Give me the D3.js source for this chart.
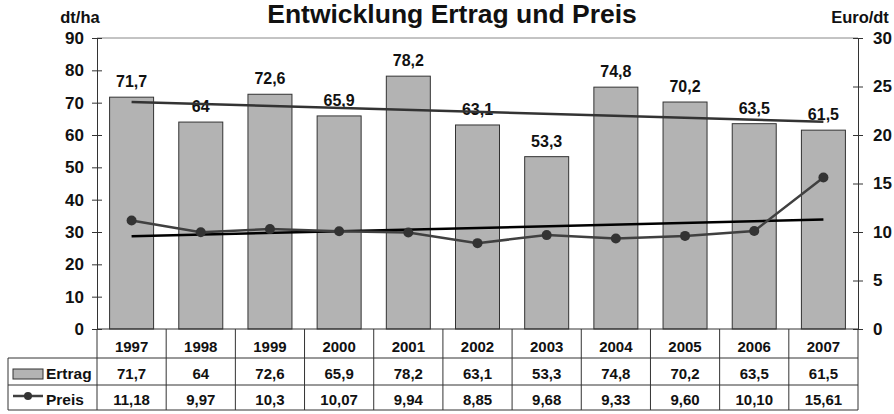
<!DOCTYPE html>
<html>
<head>
<meta charset="utf-8">
<script src="https://cdn.jsdelivr.net/npm/d3@7"></script>
<style>
  body { margin: 0; background: white; }
  svg text { font-family: "Liberation Sans", Arial, sans-serif; font-weight: bold; fill: #111; }
</style>
</head>
<body>
<svg width="894" height="414"></svg>
<script>
const years = ['1997', '1998', '1999', '2000', '2001', '2002', '2003', '2004', '2005', '2006', '2007'];
const ertrag = [71.7, 64, 72.6, 65.9, 78.2, 63.1, 53.3, 74.8, 70.2, 63.5, 61.5];
const preis = [11.18, 9.97, 10.3, 10.07, 9.94, 8.85, 9.68, 9.33, 9.60, 10.10, 15.61];
const preisLabels = ['11,18', '9,97', '10,3', '10,07', '9,94', '8,85', '9,68', '9,33', '9,60', '10,10', '15,61'];
const leftTicks = [0, 10, 20, 30, 40, 50, 60, 70, 80, 90];
const rightTicks = [0, 5, 10, 15, 20, 25, 30];

const svg = d3.select('svg');

const plot = { left: 97, right: 858, top: 38, bottom: 329 };
const rowY = [329, 358, 385, 410];
const tableLeft = 8;

const fmt = v => String(v).replace('.', ',');

const xBand = d3.scaleBand()
      .domain(years)
      .range([plot.left, plot.right])
      .paddingInner(0.364)
      .paddingOuter(0.182);
const xCell = d3.scaleBand()
      .domain(years)
      .range([plot.left, plot.right]);
const xMid = d => xCell(d) + xCell.bandwidth() / 2;

const yLeft = d3.scaleLinear().domain([0, 90]).range([plot.bottom, plot.top]);
const yRight = d3.scaleLinear().domain([0, 30]).range([plot.bottom, plot.top]);

// linear trend (least squares) like the Excel trendline
const trend = values => {
    const n = values.length;
    const xs = d3.range(n);
    const mx = d3.mean(xs), my = d3.mean(values);
    const slope = d3.sum(xs, i => (i - mx) * (values[i] - my)) / d3.sum(xs, i => (i - mx) ** 2);
    return [0, n - 1].map(i => ({ year: years[i], value: my + slope * (i - mx) }));
};

// title and units
svg.append('text')
    .attr('x', 452).attr('y', 23)
    .attr('text-anchor', 'middle')
    .style('font-size', '26.5px')
    .text('Entwicklung Ertrag und Preis');
svg.append('text')
    .attr('x', 80).attr('y', 23)
    .attr('text-anchor', 'middle')
    .style('font-size', '16.5px')
    .text('dt/ha');
svg.append('text')
    .attr('x', 860).attr('y', 23)
    .attr('text-anchor', 'middle')
    .style('font-size', '16.5px')
    .text('Euro/dt');

// top border of plot area
svg.append('line')
    .attr('x1', plot.left).attr('x2', plot.right)
    .attr('y1', plot.top).attr('y2', plot.top)
    .attr('stroke', '#888').attr('stroke-width', 1);

// bars
svg.append('g').selectAll('rect').data(years)
    .enter().append('rect')
    .attr('x', d => xBand(d))
    .attr('width', xBand.bandwidth())
    .attr('y', (d, i) => yLeft(ertrag[i]))
    .attr('height', (d, i) => plot.bottom - yLeft(ertrag[i]))
    .attr('fill', '#b3b3b3')
    .attr('stroke', '#333')
    .attr('stroke-width', 1);

// bar labels
svg.append('g').selectAll('text').data(years)
    .enter().append('text')
    .attr('x', d => xMid(d))
    .attr('y', (d, i) => yLeft(ertrag[i]) - 10)
    .attr('text-anchor', 'middle')
    .style('font-size', '16px')
    .text((d, i) => fmt(ertrag[i]));

// trend lines
const ertragTrend = trend(ertrag);
const preisTrend = trend(preis);
svg.append('path')
    .datum(ertragTrend)
    .attr('d', d3.line().x(d => xMid(d.year)).y(d => yLeft(d.value)))
    .attr('fill', 'none').attr('stroke', '#333').attr('stroke-width', 2.5);
svg.append('path')
    .datum(preisTrend)
    .attr('d', d3.line().x(d => xMid(d.year)).y(d => yRight(d.value)))
    .attr('fill', 'none').attr('stroke', '#000').attr('stroke-width', 2.5);

// price line
svg.append('path')
    .datum(years)
    .attr('d', d3.line().x(d => xMid(d)).y((d, i) => yRight(preis[i])))
    .attr('fill', 'none').attr('stroke', '#404040').attr('stroke-width', 2.5);
svg.append('g').selectAll('circle').data(years)
    .enter().append('circle')
    .attr('cx', d => xMid(d))
    .attr('cy', (d, i) => yRight(preis[i]))
    .attr('r', 5)
    .attr('fill', '#333');

// axes
const leftAxis = d3.axisLeft(yLeft).tickValues(leftTicks).tickSizeInner(5).tickSizeOuter(0).tickPadding(8);
const leftAxisGroup = svg.append('g')
      .attr('transform', `translate(${plot.left},0)`)
      .call(leftAxis);
leftAxisGroup.selectAll('.tick line').attr('x1', 5);

const rightAxis = d3.axisRight(yRight).tickValues(rightTicks).tickSizeInner(5).tickSizeOuter(0).tickPadding(10);
const rightAxisGroup = svg.append('g')
      .attr('transform', `translate(${plot.right},0)`)
      .call(rightAxis);
rightAxisGroup.selectAll('.tick line').attr('x1', -5);

[leftAxisGroup, rightAxisGroup].forEach(g => {
    g.selectAll('.domain, .tick line').attr('stroke', '#333');
    g.selectAll('text')
        .style('font-size', '17px')
        .style('font-family', '"Liberation Sans", Arial, sans-serif')
        .style('font-weight', 'bold')
        .attr('fill', '#111');
});

// data table
const table = svg.append('g').attr('stroke', '#333').attr('stroke-width', 1);
table.append('line')
    .attr('x1', plot.left).attr('x2', plot.right)
    .attr('y1', rowY[0]).attr('y2', rowY[0]);
rowY.slice(1).forEach(y => {
    table.append('line')
        .attr('x1', tableLeft).attr('x2', plot.right)
        .attr('y1', y).attr('y2', y);
});
table.append('line')
    .attr('x1', tableLeft).attr('x2', tableLeft)
    .attr('y1', rowY[1]).attr('y2', rowY[3]);
table.selectAll('.sep').data(years.concat(['end']))
    .enter().append('line')
    .attr('x1', d => d === 'end' ? plot.right : xCell(d))
    .attr('x2', d => d === 'end' ? plot.right : xCell(d))
    .attr('y1', rowY[0]).attr('y2', rowY[3]);

const rows = [
    { y: 352, values: years },
    { y: 379, values: ertrag.map(fmt) },
    { y: 405, values: preisLabels },
];
rows.forEach(row => {
    svg.append('g').selectAll('text').data(years)
        .enter().append('text')
        .attr('x', d => xMid(d))
        .attr('y', row.y)
        .attr('text-anchor', 'middle')
        .style('font-size', '15px')
        .text((d, i) => row.values[i]);
});

// legend keys inside table
svg.append('rect')
    .attr('x', 13).attr('y', 369).attr('width', 30).attr('height', 10)
    .attr('fill', '#b3b3b3').attr('stroke', '#333');
svg.append('text')
    .attr('x', 46).attr('y', 379)
    .style('font-size', '15.5px')
    .text('Ertrag');
svg.append('line')
    .attr('x1', 13).attr('x2', 43).attr('y1', 396).attr('y2', 396)
    .attr('stroke', '#404040').attr('stroke-width', 2.5);
svg.append('circle')
    .attr('cx', 28).attr('cy', 396).attr('r', 4)
    .attr('fill', '#333');
svg.append('text')
    .attr('x', 46).attr('y', 405)
    .style('font-size', '15.5px')
    .text('Preis');
</script>
</body>
</html>
